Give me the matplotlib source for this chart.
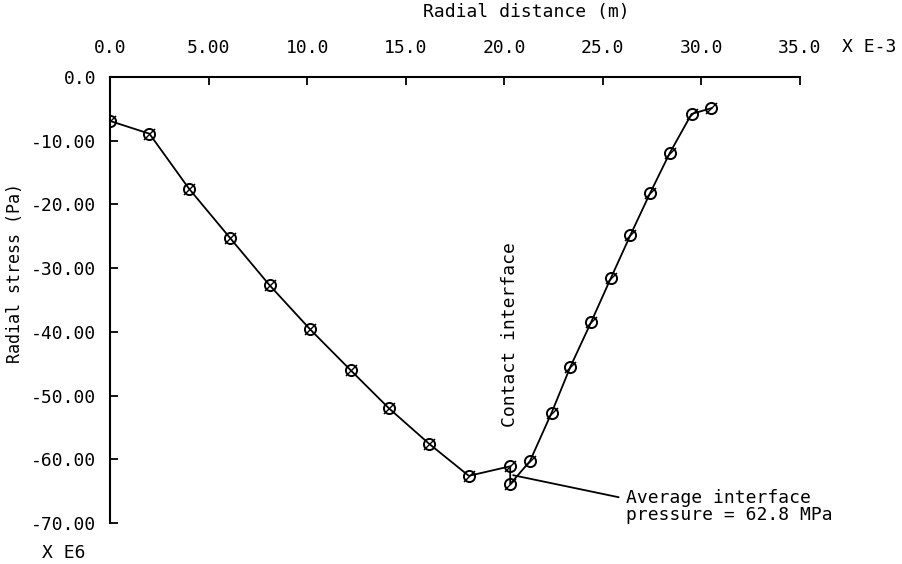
import matplotlib
matplotlib.use('Agg')
import matplotlib.pyplot as plt
from matplotlib.path import Path

# radial distance (x 1e-3 m) and radial stress (x 1e6 Pa)
dist = [0.0, 2.0, 4.0, 6.1, 8.1, 10.15, 12.2, 14.15, 16.2, 18.2,
        20.3, 20.3, 21.3, 22.4, 23.35, 24.4, 25.4, 26.4, 27.4, 28.4, 29.5, 30.5]
stress = [-6.9, -8.9, -17.5, -25.3, -32.7, -39.6, -46.0, -52.0, -57.6, -62.6,
          -61.1, -63.9, -60.3, -52.7, -45.5, -38.5, -31.6, -24.8, -18.2, -11.9, -5.8, -4.9]

xticks = [0, 5, 10, 15, 20, 25, 30, 35]
xtick_labels = ['0.0', '5.00', '10.0', '15.0', '20.0', '25.0', '30.0', '35.0']
yticks = [0, -10, -20, -30, -40, -50, -60, -70]
ytick_labels = ['0.0', '-10.00', '-20.00', '-30.00', '-40.00', '-50.00', '-60.00', '-70.00']

plt.rcParams['font.family'] = 'DejaVu Sans Mono'
fs = 13

# slash drawn through each circle, like the old plotter symbol
slash = Path([(-0.6, -0.6), (0.6, 0.6)], [Path.MOVETO, Path.LINETO])

fig = plt.figure(figsize=(9.02, 5.64), dpi=100)
ax = fig.add_axes([110/902, 1-523/564, 690/902, 446/564])

ax.plot(dist, stress, color='black', lw=1.3, marker='o', markersize=8,
        markerfacecolor='none', markeredgecolor='black', markeredgewidth=1.4)
ax.plot(dist, stress, ls='none', marker=slash, markersize=8,
        markeredgecolor='black', markeredgewidth=1.0)

ax.set_xlim(0, 35)
ax.set_ylim(-70, 0)
ax.xaxis.tick_top()
ax.set_xticks(xticks)
ax.set_xticklabels(xtick_labels, fontsize=fs)
ax.set_yticks(yticks)
ax.set_yticklabels(ytick_labels, fontsize=fs)
ax.tick_params(axis='both', direction='in', length=6, width=1.3)
ax.tick_params(axis='x', pad=14.5)
ax.tick_params(axis='y', pad=10)
for s in ['right', 'bottom']:
    ax.spines[s].set_visible(False)
for s in ['left', 'top']:
    ax.spines[s].set_linewidth(1.5)

fig.text(526/902, 1-12/564, 'Radial distance (m)', fontsize=fs, ha='center', va='center')
fig.text(15/902, 1-273/564, 'Radial stress (Pa)', fontsize=12, ha='center', va='center', rotation=90)
fig.text(842/902, 1-47/564, 'X E-3', fontsize=fs, ha='left', va='center')
fig.text(42/902, 1-553/564, 'X E6', fontsize=fs, ha='left', va='center')

ax.text(20.3, -40.5, 'Contact interface', fontsize=fs, rotation=90, ha='center', va='center')
ax.annotate('Average interface\npressure = 62.8 MPa', xy=(20.45, -62.5), xytext=(26.15, -67.4),
            fontsize=fs, ha='left', va='center', linespacing=0.95,
            arrowprops=dict(arrowstyle='-', color='black', lw=1.3, shrinkA=3, shrinkB=0,
                            relpos=(0, 0.72)))

fig.savefig('out.png', dpi=100)
